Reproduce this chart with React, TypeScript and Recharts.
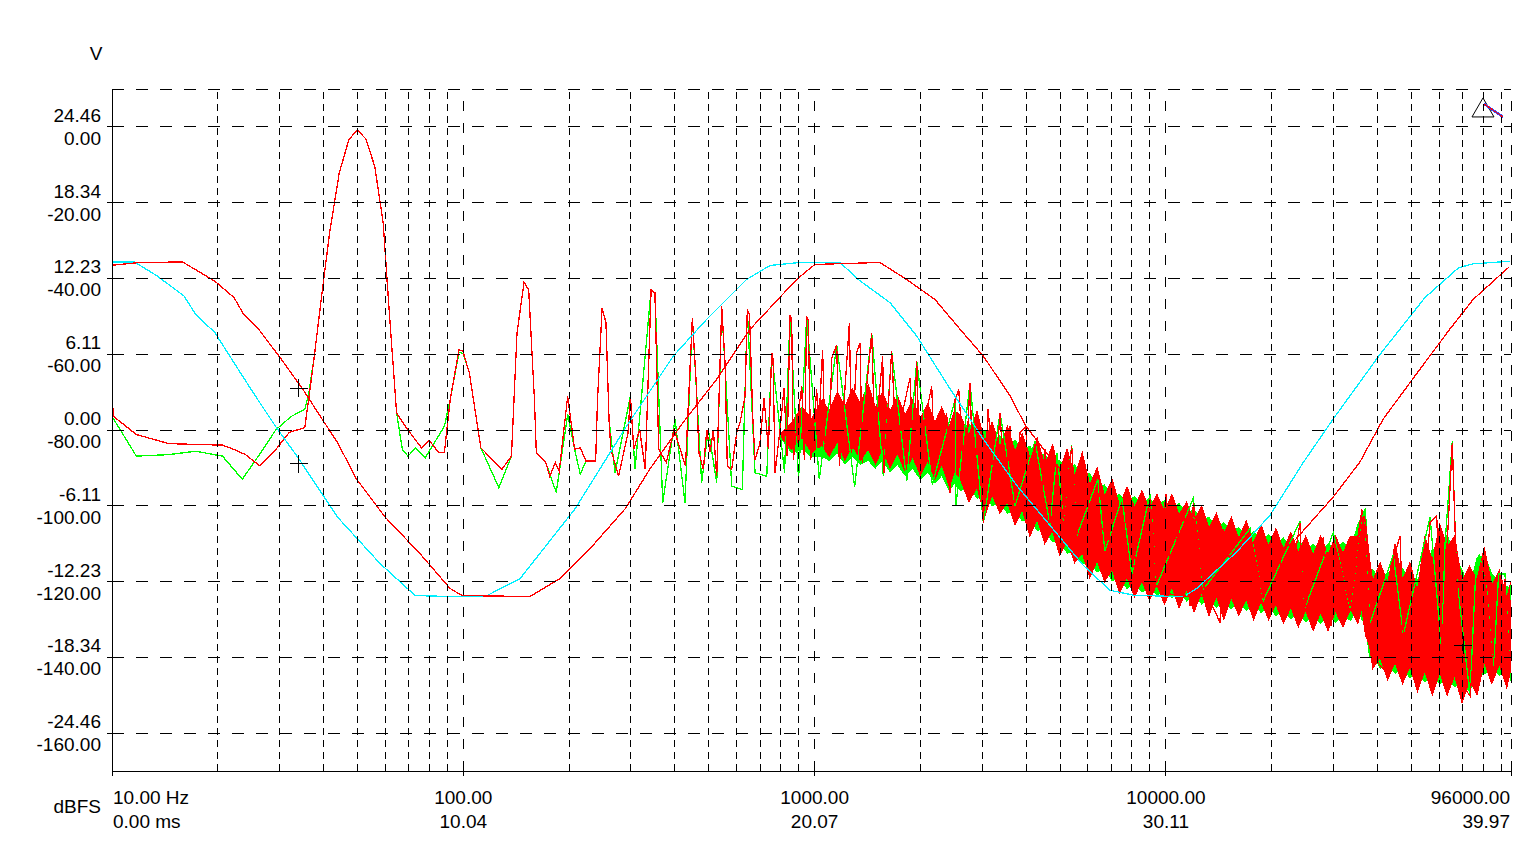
import { Area, ComposedChart, Line, ReferenceLine, Scatter, XAxis, YAxis } from 'recharts';

// spectrum traces: [Hz, dBFS]
const redSpectrum: [number, number][] = [
  [10, -71.5], [10.1, -76.4], [11.73, -81.2], [14.52, -83.6], [20.63, -84.0], [21.69, -84.7], [23.98, -86.5],
  [26.38, -89.5], [29.29, -85.1], [31.99, -80.6], [35.37, -79.4], [36.28, -72.0], [37.66, -60.5], [39.61, -43.8],
  [41.63, -28.0], [44.34, -12.2], [47.22, -3.4], [49.89, -0.8], [52.84, -3.2], [55.98, -10.5], [59.16, -25.4],
  [60.65, -40.3], [62.18, -54.4], [64.59, -75.5], [68.78, -79.4], [76.03, -84.7], [79.92, -82.7], [85.11, -86.0],
  [88.34, -86.0], [91.76, -72.0], [97.23, -58.8], [99.7, -59.2], [104, -64.9], [112.2, -84.7], [128.7, -90.4],
  [137.1, -86.9], [142.2, -54.4], [148.9, -41.0], [153.5, -43.0], [159.4, -72.0], [161.4, -86.0], [171.7, -88.6],
  [176.2, -92.2], [182.8, -88.6], [187.5, -90.9], [198.2, -71.1], [207.4, -85.1], [215.3, -84.7], [223.4, -88.2],
  [238.1, -88.2], [241, -72.0], [248.4, -47.8], [254.7, -51.7], [259.9, -77.2], [263.1, -85.1], [276.6, -92.2],
  [294.4, -80.7], [299, -71.1], [305.7, -85.1], [317.6, -79.9], [329.6, -90.4], [342.4, -43.0], [351.1, -43.8],
  [359.9, -85.1], [378.4, -88.6], [398, -79.9], [429, -89.5], [448.8, -50.4], [460.3, -67.6], [468.5, -86.0],
  [482.3, -90.4], [493.2, -79.9], [503.9, -85.9], [514.9, -79.9], [526.5, -92.2], [543.9, -47.4], [555.9, -62.3],
  [564.3, -89.5], [580.8, -90.4], [600.2, -80.7], [613.2, -78.1], [633.8, -71.1], [643.3, -48.2], [652.7, -49.6],
  [666.6, -76.4], [676.7, -87.8], [699.3, -83.4], [717.8, -71.5], [738.4, -85.1], [755.1, -59.6], [761.6, -61.4],
  [771.6, -91.3], [797.3, -79.9], [818.5, -68.9], [834.7, -86.9], [851.1, -49.6], [860.6, -50.9], [869.8, -87.8],
  [897, -76.4], [919, -68.4], [934.9, -87.8], [949.4, -50.0], [959.6, -50.9], [974.8, -87.8], [1014, -69.3],
  [1025, -80.7], [1054, -58.8], [1070, -83.4], [1106, -77.2], [1119, -61.0], [1156, -57.5], [1176, -89.5],
  [1207, -75.5], [1256, -51.7], [1275, -86.0], [1318, -59.6], [1347, -57.0], [1367, -88.6], [1407, -68.4],
  [1454, -54.4], [1486, -85.1], [1525, -71.1], [1563, -60.5], [1576, -91.3], [1618, -74.6], [1657, -59.2],
  [1713, -86.9], [1770, -76.4], [1869, -66.2], [1910, -86.9], [1953, -61.9], [1995, -91.3], [2062, -77.2],
  [2154, -68.4], [2201, -90.4], [2300, -79.9], [2377, -75.5], [2429, -96.5], [2510, -72.0], [2572, -69.3],
  [2680, -94.8], [2769, -67.6], [2830, -94.8], [2918, -79.9], [3022, -104.5], [3117, -74.6], [3263, -94.8],
  [3372, -75.5], [3483, -98.3], [3600, -79.0], [3720, -99.2], [3843, -80.7], [3990, -79.0], [4104, -101.8],
  [4241, -83.8], [4381, -103.6], [4526, -85.1], [4677, -104.5], [4781, -84.3], [5105, -103.6], [5394, -84.3],
  [5572, -108.0], [5820, -87.8], [6214, -110.6], [6493, -94.8], [7085, -114.1], [7905, -100.1], [8259, -118.5],
  [9012, -98.3], [9415, -120.3], [10007, -97.0], [10273, -117.6], [11207, -100.9], [11712, -126.4], [11967, -99.2],
  [12783, -121.2], [14256, -130.8], [14568, -106.2], [15907, -122.9], [17355, -107.1], [18939, -124.7],
  [20674, -108.0], [22075, -126.4], [24089, -104.5], [24616, -128.2], [28054, -108.4], [29648, -131.7],
  [29957, -108.4], [33419, -126.4], [36475, -102.7], [38107, -131.7], [39375, -140.5], [41574, -143.1],
  [44397, -114.1], [46394, -108.0], [47409, -134.3], [51749, -147.5], [56478, -104.5], [58997, -102.7],
  [60954, -138.7], [65340, -83.4], [67249, -119.4], [70222, -147.5], [73378, -150.2], [79226, -115.0],
  [81860, -122.9], [85510, -144.0], [92310, -119.4], [95377, -144.0], [96000, -125.0],
];

const greenSpectrum: [number, number][] = [
  [10, -76.4], [11.73, -86.9], [14.52, -86.5], [17.31, -85.6], [20.63, -86.9], [23.49, -93.0], [26.5, -86.0],
  [29.29, -79.9], [32.39, -76.4], [35.37, -74.6], [36.28, -70.6], [37.66, -60.5], [39.61, -43.8], [41.63, -28.0],
  [44.34, -12.2], [47.22, -3.4], [49.89, -0.8], [52.84, -3.2], [55.98, -10.5], [59.16, -25.4], [60.65, -40.3],
  [62.18, -54.4], [64.59, -75.5], [67.06, -85.1], [69.6, -86.9], [73.2, -84.7], [77.96, -87.3], [88.34, -79.0],
  [91.76, -72.0], [97.23, -59.5], [99.7, -59.8], [104, -64.9], [112.2, -84.7], [126.2, -95.2], [137.1, -86.9],
  [142.2, -54.4], [148.9, -41.0], [153.5, -43.0], [159.4, -72.0], [161.4, -86.0], [171.7, -88.6], [183.9, -96.5],
  [198.2, -75.9], [207.4, -85.1], [215.3, -91.7], [223.4, -88.2], [238.1, -88.2], [241, -72.0], [248.4, -47.8],
  [254.7, -51.7], [259.9, -77.2], [270.3, -91.3], [299, -71.1], [308.1, -90.4], [342.4, -43.0], [351.1, -43.8],
  [369.5, -99.2], [400.6, -77.2], [427.6, -99.2], [448.8, -50.4], [477, -93.9], [498.2, -79.9], [526.5, -93.9],
  [543.9, -47.4], [580.8, -94.8], [622.7, -95.7], [643.3, -48.2], [676.7, -91.3], [730.8, -92.2], [755.1, -59.6],
  [821.2, -91.3], [851.1, -49.6], [900, -93.0], [949.4, -50.0], [1031, -93.0], [1156, -57.5], [1300, -95.0],
  [1454, -54.4], [1569, -92.2], [1657, -59.2], [1829, -93.5], [1953, -61.9], [2163, -94.4], [2510, -72.0],
  [2522, -100.1], [2769, -67.6], [3022, -104.5], [3372, -75.5], [3720, -100.0], [4241, -83.0], [4677, -105.0],
  [4900, -86.0], [5105, -104.0], [5394, -84.0], [5572, -108.0], [6400, -93.0], [6700, -112.0], [7500, -98.0],
  [8000, -118.0], [9012, -97.0], [9415, -121.0], [11967, -98.0], [12783, -122.0], [17355, -106.0],
  [18939, -125.0], [24089, -104.0], [24616, -128.0], [29957, -107.0], [33419, -127.0], [36475, -102.0],
  [38107, -131.0], [44397, -113.0], [47409, -134.0], [56478, -103.0], [60954, -138.0], [62300, -110.0],
  [65340, -83.0], [67249, -119.0], [73378, -150.0], [76500, -114.0], [78200, -113.0], [81860, -122.0],
  [85510, -144.0], [88500, -118.0], [92310, -118.0], [95377, -144.0], [96000, -121.0],
];

// dense noise body, with its ragged edges: [Hz, low dB, high dB]
const redNoiseBand: [number, number, number][] = [
  [800, -82, -81], [860, -85, -78], [920, -82, -74], [980, -86, -77], [1050, -84, -72], [1100, -87, -75],
  [1160, -83, -70], [1220, -88, -74], [1280, -84, -69], [1350, -88, -73], [1420, -85, -68], [1490, -89, -74],
  [1560, -85, -70], [1640, -90, -75], [1720, -86, -71], [1810, -91, -76], [1900, -87, -72], [2000, -92, -77],
  [2100, -88, -73], [2200, -93, -78], [2300, -89, -74], [2420, -95, -79], [2500, -91, -75], [2600, -93, -76],
  [2750, -99, -81.5], [2900, -95, -75], [3050, -103, -83], [3200, -97, -78], [3370, -102, -84.5], [3540, -99, -79],
  [3720, -105, -85.7], [3900, -101, -81], [4100, -108, -87.2], [4300, -103.5, -82], [4520, -110, -89.3],
  [4750, -106.5, -84], [4980, -113, -91], [5230, -109.5, -85], [5500, -115, -92.2], [5780, -112.4, -86],
  [6070, -119, -94.5], [6370, -114.5, -90], [6690, -120, -97.5], [7030, -116.8, -93], [7380, -123, -100],
  [7750, -118.8, -95], [8140, -124, -100.5], [8550, -119.8, -96], [8980, -125, -101], [9430, -120.6, -97],
  [9900, -126, -101.6], [10400, -121.3, -97], [10900, -127, -102.4], [11450, -122.1, -99], [12030, -128, -104],
  [12630, -122.9, -100], [13260, -129, -106], [13920, -123.8, -102], [14620, -130, -107.5], [15350, -124.2, -103],
  [16120, -129, -108.7], [16920, -124.6, -104], [17770, -130, -109.8], [18660, -125.2, -105], [19590, -130, -110.6],
  [20570, -126, -106], [21600, -131, -111.5], [22680, -126.8, -107], [23810, -132, -112.3], [25000, -127.6, -108],
  [26250, -133, -113.1], [27560, -128.1, -108], [28940, -133, -113], [30390, -127.8, -108], [31910, -132, -112.6],
  [33500, -127.3, -108], [35180, -131, -108], [36100, -127, -101], [36940, -134, -103.6], [38000, -137, -114],
  [38790, -143, -119.8], [40730, -140, -115], [42770, -146, -120.5], [44900, -141.2, -110], [47150, -147, -119.5],
  [49510, -142.4, -115], [51980, -149, -122.5], [54580, -143.5, -108], [57310, -150, -114.5], [60180, -144, -105],
  [63190, -150, -110.8], [66350, -144.8, -108], [69660, -152, -120], [73150, -146, -116], [76800, -150, -119.5],
  [80640, -141.4, -111], [84680, -147, -121], [88910, -141.8, -117], [93360, -148, -124.3], [96000, -143.1, -120],
];

const greenNoiseBand: [number, number, number][] = [
  [800, -82, -81], [860, -86, -78], [920, -85, -75], [980, -87, -77], [1050, -87, -73], [1100, -88, -75],
  [1160, -86, -71], [1220, -89, -74], [1280, -87, -70], [1350, -89, -73], [1420, -88, -69], [1490, -90, -74],
  [1560, -88, -71], [1640, -91, -75], [1720, -89, -72], [1810, -92, -76], [1900, -90, -73], [2000, -93, -77],
  [2100, -91, -74], [2200, -94, -78], [2300, -92, -75], [2420, -96, -79], [2500, -94, -76], [2600, -96, -79.7],
  [2750, -95, -78.5], [2900, -98, -81.2], [3050, -97, -80], [3200, -100, -82.8], [3370, -99, -81.5],
  [3540, -102, -84], [3720, -101, -82.7], [3900, -104, -85.5], [4100, -103.3, -84.2], [4300, -106.5, -87.2],
  [4520, -106, -86.3], [4750, -109.5, -89.5], [4980, -109, -88], [5230, -112.5, -90.5], [5500, -112, -89.2],
  [5780, -115.4, -92], [6070, -114.5, -91.5], [6370, -117.5, -95], [6690, -116.5, -94.5], [7030, -119.8, -98],
  [7380, -119, -97], [7750, -121.8, -99.3], [8140, -120.3, -97.5], [8550, -122.8, -99.7], [8980, -121.3, -98],
  [9430, -123.6, -100.3], [9900, -122, -98.6], [10400, -124.3, -101], [10900, -122.7, -99.4],
  [11450, -125.1, -102], [12030, -123.5, -101], [12630, -125.9, -104], [13260, -124.3, -103],
  [13920, -126.8, -106], [14620, -125, -104.5], [15350, -127.2, -107], [16120, -125.4, -105.7],
  [16920, -127.6, -108.3], [17770, -125.8, -106.8], [18660, -128.2, -109.2], [19590, -126.6, -107.6],
  [20570, -129, -110], [21600, -127.4, -108.5], [22680, -129.8, -110.9], [23810, -128.2, -109.3],
  [25000, -130.6, -111.7], [26250, -129, -110.1], [27560, -131.1, -112.2], [28940, -129, -110],
  [30390, -130.8, -111.8], [31910, -128.5, -109.6], [33500, -130.3, -111.4], [35180, -127, -105],
  [36100, -130, -103], [36940, -131, -100.6], [38000, -140, -118], [38790, -139, -116.8], [40730, -143, -119.8],
  [42770, -141.8, -117.5], [44900, -144.2, -118.2], [47150, -142.6, -116.5], [49510, -145.4, -120.5],
  [51980, -144.1, -119.5], [54580, -146.5, -117], [57310, -145, -111.5], [60180, -147, -111], [63190, -145, -107.8],
  [66350, -147.8, -113], [69660, -146.8, -117], [73150, -149, -121.5], [76800, -145, -114], [80640, -144.4, -113],
  [84680, -142.4, -118], [88910, -144.8, -120], [93360, -143.6, -121.3], [96000, -146.1, -122],
];

// time traces: [ms, V]
const cyanWave: [number, number][] = [
  [0, 13.57], [0.64, 13.57], [1.3, 12.41], [2.06, 10.81], [2.39, 9.33], [2.94, 7.86], [3.48, 5.45], [4.03, 3.03],
  [4.69, 0.22], [5.34, -2.33], [5.78, -4.21], [6.44, -7.02], [7.66, -10.78], [8.66, -13.36], [9.66, -13.44],
  [10.66, -13.44], [11.66, -11.99], [13.23, -6.36], [14.71, 0.35], [16.04, 5.98], [16.99, 8.93], [18.13, 12.15],
  [18.8, 13.28], [19.66, 13.52], [20.8, 13.52], [21.32, 12.15], [22.23, 10.27], [22.99, 7.59], [23.95, 3.3],
  [24.89, -0.72], [25.85, -4.48], [26.8, -7.7], [27.75, -10.92], [28.51, -12.93], [29.18, -13.33], [30.61, -13.46],
  [30.99, -12.79], [32.13, -9.84], [33.08, -6.9], [34.04, -2.6], [34.89, 0.89], [36.23, 6.11], [37.51, 10.68],
  [38.47, 13.09], [38.89, 13.41], [39.94, 13.62],
];

const redWave: [number, number][] = [
  [0, 13.3], [0.7, 13.49], [2.01, 13.57], [2.94, 12.01], [3.49, 10.68], [3.76, 9.33], [4.19, 8.13], [4.8, 5.85],
  [5.45, 3.3], [6.0, 0.89], [6.44, -0.99], [6.98, -3.94], [7.8, -7.02], [8.8, -9.98], [9.66, -12.79], [10.0, -13.36],
  [11.94, -13.44], [12.8, -11.99], [13.66, -9.57], [14.66, -6.36], [15.37, -3.14], [16.32, 0.62], [17.28, 4.1],
  [18.23, 8.13], [19.56, 12.15], [20.08, 13.36], [21.94, 13.52], [22.7, 12.15], [23.51, 10.54], [24.23, 8.13],
  [24.89, 5.98], [25.66, 2.76], [26.1, 0.35], [26.61, -1.53], [27.08, -3.14], [27.75, -5.63], [28.7, -9.74],
  [29.66, -12.23], [30.13, -13.2], [30.8, -13.46], [31.56, -13.46], [32.13, -12.53], [32.99, -10.38],
  [33.75, -9.04], [34.42, -6.9], [34.89, -5.41], [35.65, -2.6], [36.32, 0.89], [37.37, 4.91], [38.22, 8.13],
  [38.89, 10.54], [39.92, 13.17],
];

const timeCursors: [number, number][] = [[5.34, 3.38], [5.34, -2.74]];
const spectrumCursors: [number, number][] = [[70100, -136.8]];
const scrollMarker: [number, number][] = [[79900, 5.0]];

const dbTicks = [0, -20, -40, -60, -80, -100, -120, -140, -160];
const voltLabels = ['24.46', '18.34', '12.23', '6.11', '0.00', '-6.11', '-12.23', '-18.34', '-24.46'];
const hzTicks = [10, 100, 1000, 10000, 96000];
const hzLabels = ['10.00 Hz', '100.00', '1000.00', '10000.00', '96000.00'];
const msLabels = ['0.00 ms', '10.04', '20.07', '30.11', '39.97'];
const minorGridHz = [
  20, 30, 40, 50, 60, 70, 80, 90, 200, 300, 400, 500, 600, 700, 800, 900, 2000, 3000, 4000, 5000, 6000, 7000, 8000,
  9000, 20000, 30000, 40000, 50000, 60000, 70000, 80000, 90000,
];
const majorGridHz = [100, 1000, 10000, 96000];
const gridDb = [10, 0, -20, -40, -60, -80, -100, -120, -140, -160];

const spec = (pts: [number, number][]) => pts.map(([hz, db]) => ({ hz, db }));
const band = (pts: [number, number, number][]) => pts.map(([hz, lo, hi]) => ({ hz, range: [lo, hi] }));
const wave = (pts: [number, number][]) => pts.map(([t, v]) => ({ t, v }));

const font = { fontFamily: '"Liberation Sans", Arial, sans-serif', fontSize: 19, fill: '#000' };
const RED = '#ff0000';
const GREEN = '#00ff00';
const CYAN = '#00f0ff';

function DbTick(props: any) {
  const i = dbTicks.indexOf(props.payload.value);
  return (
    <g>
      <text x={101} y={props.y - 5} textAnchor="end" {...font}>{voltLabels[i]}</text>
      <text x={101} y={props.y + 18} textAnchor="end" {...font}>{props.payload.value.toFixed(2)}</text>
    </g>
  );
}

function HzTick(props: any) {
  const i = hzTicks.indexOf(props.payload.value);
  const anchor = i === 0 ? 'start' : i === hzTicks.length - 1 ? 'end' : 'middle';
  const x = i === 0 ? props.x + 1 : i === hzTicks.length - 1 ? props.x - 1 : props.x;
  return (
    <g>
      <text x={x} y={804} textAnchor={anchor} {...font}>{hzLabels[i]}</text>
      <text x={x} y={828} textAnchor={anchor} {...font}>{msLabels[i]}</text>
    </g>
  );
}

function Cross(p: any) {
  return (
    <g stroke="#000" strokeWidth={1}>
      <line x1={p.cx - 9} y1={p.cy} x2={p.cx + 9} y2={p.cy} />
      <line x1={p.cx} y1={p.cy - 9} x2={p.cx} y2={p.cy + 9} />
    </g>
  );
}

function Marker(p: any) {
  return (
    <g>
      <polygon
        points={`${p.cx},${p.cy - 10} ${p.cx - 11},${p.cy + 9} ${p.cx + 11},${p.cy + 9}`}
        fill="none"
        stroke="#000"
      />
      <line x1={p.cx + 1} y1={p.cy - 4} x2={p.cx + 20} y2={p.cy + 9} stroke="#3050ff" strokeWidth={2.5} />
      <line x1={p.cx + 1} y1={p.cy - 4} x2={p.cx + 20} y2={p.cy + 9} stroke={RED} strokeWidth={1} />
    </g>
  );
}

export default function App() {
  return (
    <div style={{ position: 'absolute', left: 0, top: 0, width: 1538, height: 866, background: '#fff' }}>
      <style>{`.recharts-surface path, .recharts-surface line { shape-rendering: crispEdges; }`}</style>
      <ComposedChart width={1538} height={866} margin={{ top: 89, right: 27, bottom: 0, left: 0 }}>
        <XAxis
          xAxisId="hz"
          dataKey="hz"
          type="number"
          scale="log"
          domain={[10, 96000]}
          allowDataOverflow
          ticks={hzTicks}
          interval={0}
          height={95}
          tickSize={5}
          tick={(p: any) => <HzTick {...p} />}
          axisLine={{ stroke: '#000' }}
          tickLine={{ stroke: '#000' }}
        />
        <XAxis xAxisId="t" dataKey="t" type="number" domain={[0, 39.97]} allowDataOverflow hide />
        <YAxis
          yAxisId="db"
          dataKey="db"
          type="number"
          domain={[-170, 10]}
          allowDataOverflow
          ticks={dbTicks}
          interval={0}
          width={112}
          tickSize={5}
          tick={(p: any) => <DbTick {...p} />}
          axisLine={{ stroke: '#000' }}
          tickLine={{ stroke: '#000' }}
        />
        <YAxis yAxisId="v" dataKey="v" type="number" domain={[-27.52, 27.52]} allowDataOverflow hide />

        <Area
          xAxisId="hz"
          yAxisId="db"
          data={band(greenNoiseBand)}
          dataKey="range"
          type="linear"
          stroke={GREEN}
          fill={GREEN}
          fillOpacity={1}
          isAnimationActive={false}
        />
        <Line
          xAxisId="hz"
          yAxisId="db"
          data={spec(greenSpectrum)}
          dataKey="db"
          type="linear"
          stroke={GREEN}
          strokeWidth={1.3}
          dot={false}
          activeDot={false}
          isAnimationActive={false}
        />
        <Area
          xAxisId="hz"
          yAxisId="db"
          data={band(redNoiseBand)}
          dataKey="range"
          type="linear"
          stroke={RED}
          fill={RED}
          fillOpacity={1}
          isAnimationActive={false}
        />
        <Line
          xAxisId="hz"
          yAxisId="db"
          data={spec(redSpectrum)}
          dataKey="db"
          type="linear"
          stroke={RED}
          strokeWidth={1.3}
          dot={false}
          activeDot={false}
          isAnimationActive={false}
        />
        <Line
          xAxisId="t"
          yAxisId="v"
          data={wave(cyanWave)}
          dataKey="v"
          type="linear"
          stroke={CYAN}
          strokeWidth={1.3}
          dot={false}
          activeDot={false}
          isAnimationActive={false}
        />
        <Line
          xAxisId="t"
          yAxisId="v"
          data={wave(redWave)}
          dataKey="v"
          type="linear"
          stroke={RED}
          strokeWidth={1.3}
          dot={false}
          activeDot={false}
          isAnimationActive={false}
        />

        {gridDb.map((d) => (
          <ReferenceLine key={`h${d}`} xAxisId="hz" yAxisId="db" y={d} stroke="#000" strokeDasharray="12 12" />
        ))}
        {minorGridHz.map((f) => (
          <ReferenceLine key={`m${f}`} xAxisId="hz" yAxisId="db" x={f} stroke="#000" strokeDasharray="7 5" />
        ))}
        {majorGridHz.map((f) => (
          <ReferenceLine key={`M${f}`} xAxisId="hz" yAxisId="db" x={f} stroke="#000" strokeDasharray="10 12" />
        ))}

        <Scatter
          xAxisId="t"
          yAxisId="v"
          data={wave(timeCursors)}
          shape={(p: any) => <Cross {...p} />}
          isAnimationActive={false}
        />
        <Scatter
          xAxisId="hz"
          yAxisId="db"
          data={spec(spectrumCursors)}
          shape={(p: any) => <Cross {...p} />}
          isAnimationActive={false}
        />
        <Scatter
          xAxisId="hz"
          yAxisId="db"
          data={spec(scrollMarker)}
          shape={(p: any) => <Marker {...p} />}
          isAnimationActive={false}
        />
      </ComposedChart>
      <svg width={1538} height={866} style={{ position: 'absolute', left: 0, top: 0, pointerEvents: 'none' }}>
        <text x={96} y={60} textAnchor="middle" {...font}>V</text>
        <text x={101} y={813} textAnchor="end" {...font}>dBFS</text>
      </svg>
    </div>
  );
}
